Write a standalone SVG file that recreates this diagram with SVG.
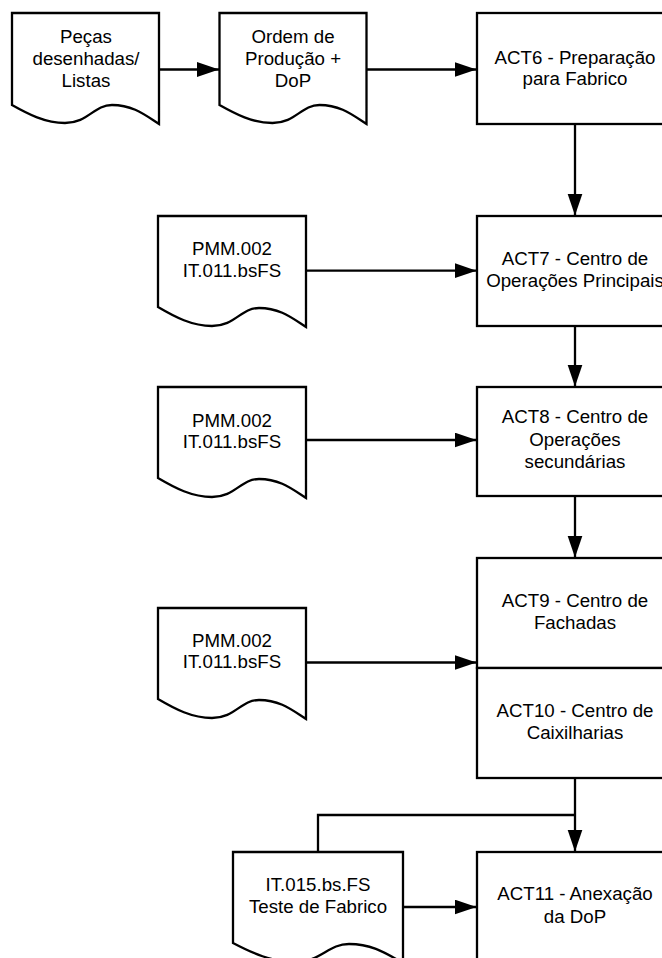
<svg xmlns="http://www.w3.org/2000/svg" width="662" height="958" viewBox="0 0 662 958">
  <style>
    .shape { fill: #ffffff; stroke: #000000; stroke-width: 2.3; stroke-linejoin: miter; }
    .edge { fill: none; stroke: #000000; stroke-width: 2.3; }
    .arrow { marker-end: url(#head); }
    text { font-family: "Liberation Sans", Arial, sans-serif; font-size: 18.7px; fill: #000000; text-anchor: middle; }
  </style>
  <defs>
    <marker id="head" markerUnits="userSpaceOnUse" markerWidth="23" markerHeight="16" refX="22" refY="7.5" orient="auto">
      <path d="M0,0 L22,7.5 L0,15 Z" fill="#000000"/>
    </marker>
  </defs>
  <rect width="662" height="958" fill="#ffffff"/>

  <!-- connectors -->
  <g id="connectors">
    <path class="edge arrow" d="M159,69.5 H219"/>
    <path class="edge arrow" d="M366.5,69.5 H476.5"/>
    <path class="edge arrow" d="M575,124 V215.5"/>
    <path class="edge arrow" d="M306,270.7 H476.5"/>
    <path class="edge arrow" d="M575,326 V386.5"/>
    <path class="edge arrow" d="M306,440 H476.5"/>
    <path class="edge arrow" d="M575,496 V557.5"/>
    <path class="edge arrow" d="M306,662.5 H476.5"/>
    <path class="edge arrow" d="M575,778 V851.5"/>
    <path class="edge" d="M318,852 V815 H575"/>
    <path class="edge arrow" d="M403,907 H476.5"/>
  </g>

  <!-- document: drawn parts list -->
  <g id="doc-pecas">
    <path class="shape" d="M12,13 H159 V124 C145,115 133,105 112,105 C94,105 88,123 65,123 C45,123 28,114 12,105 Z"/>
    <text x="86" y="42.7">Peças</text>
    <text x="86" y="65">desenhadas/</text>
    <text x="86" y="87">Listas</text>
  </g>

  <!-- document: production order -->
  <g id="doc-ordem">
    <path class="shape" d="M219.5,13 H366.5 V124 C352.5,115 340.5,105 319.5,105 C301.5,105 295.5,123 272.5,123 C252.5,123 235.5,114 219.5,105 Z"/>
    <text x="293" y="42.7">Ordem de</text>
    <text x="293" y="65">Produção +</text>
    <text x="293" y="87">DoP</text>
  </g>

  <!-- ACT6 -->
  <g id="act6">
    <rect class="shape" x="477" y="13" width="196" height="111"/>
    <text x="575" y="63.5">ACT6 - Preparação</text>
    <text x="575" y="84.5">para Fabrico</text>
  </g>

  <!-- PMM document feeding ACT7 -->
  <g id="doc-pmm-1">
    <path class="shape" d="M158,216 H306 V327 C292,318 280,308 259,308 C241,308 235,326 212,326 C192,326 175,317 158,307 Z"/>
    <text x="232" y="255">PMM.002</text>
    <text x="232" y="276.7">IT.011.bsFS</text>
  </g>

  <!-- ACT7 -->
  <g id="act7">
    <rect class="shape" x="477" y="216" width="196" height="110"/>
    <text x="575" y="265">ACT7 - Centro de</text>
    <text x="575" y="287.3">Operações Principais</text>
  </g>

  <!-- PMM document feeding ACT8 -->
  <g id="doc-pmm-2">
    <path class="shape" d="M158,387 H306 V498 C292,489 280,479 259,479 C241,479 235,497 212,497 C192,497 175,488 158,478 Z"/>
    <text x="232" y="426.7">PMM.002</text>
    <text x="232" y="448.3">IT.011.bsFS</text>
  </g>

  <!-- ACT8 -->
  <g id="act8">
    <rect class="shape" x="477" y="387" width="196" height="109"/>
    <text x="575" y="423.3">ACT8 - Centro de</text>
    <text x="575" y="445.5">Operações</text>
    <text x="575" y="468">secundárias</text>
  </g>

  <!-- PMM document feeding ACT9 / ACT10 -->
  <g id="doc-pmm-3">
    <path class="shape" d="M158,608 H306 V719 C292,710 280,700 259,700 C241,700 235,718 212,718 C192,718 175,709 158,699 Z"/>
    <text x="232" y="646.7">PMM.002</text>
    <text x="232" y="668.3">IT.011.bsFS</text>
  </g>

  <!-- ACT9 -->
  <g id="act9">
    <rect class="shape" x="477" y="558" width="196" height="110"/>
    <text x="575" y="606.7">ACT9 - Centro de</text>
    <text x="575" y="629.3">Fachadas</text>
  </g>

  <!-- ACT10 -->
  <g id="act10">
    <rect class="shape" x="477" y="668" width="196" height="110"/>
    <text x="575" y="716.7">ACT10 - Centro de</text>
    <text x="575" y="739.3">Caixilharias</text>
  </g>

  <!-- test document -->
  <g id="doc-teste">
    <path class="shape" d="M233,852 H403 V963 C387,954 373,944 349,944 C328,944 321,962 295,962 C272,962 252,953 233,943 Z"/>
    <text x="318" y="890.7">IT.015.bs.FS</text>
    <text x="318" y="913.3">Teste de Fabrico</text>
  </g>

  <!-- ACT11 -->
  <g id="act11">
    <rect class="shape" x="477" y="852" width="196" height="111"/>
    <text x="575" y="900">ACT11 - Anexação</text>
    <text x="575" y="922.7">da DoP</text>
  </g>
</svg>
